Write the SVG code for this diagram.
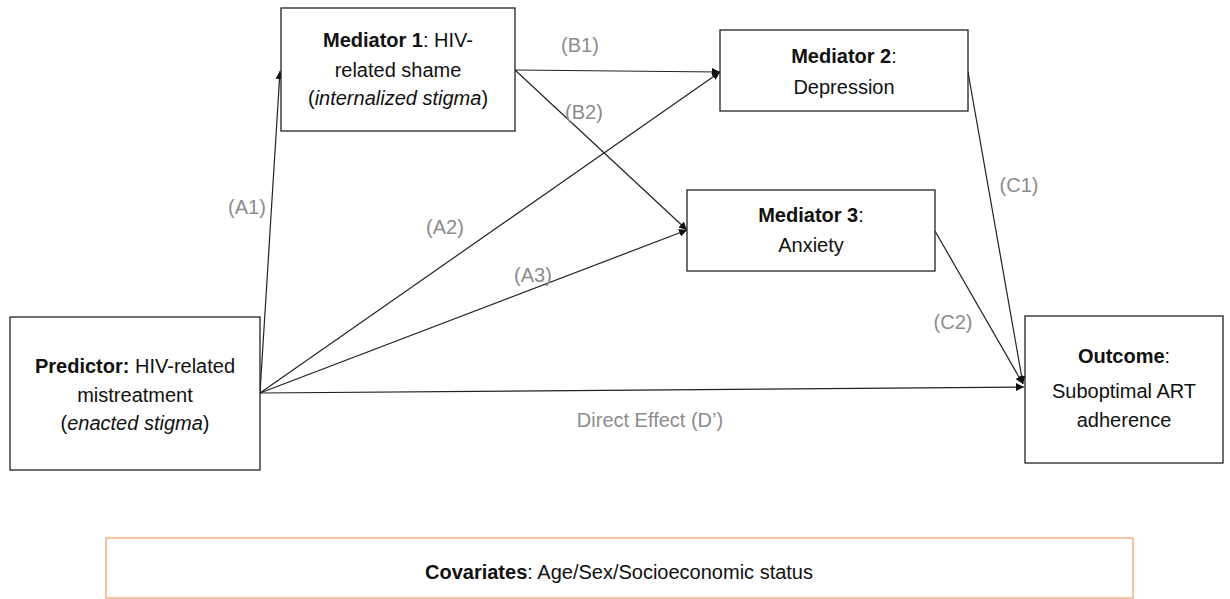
<svg xmlns="http://www.w3.org/2000/svg" width="1230" height="599" viewBox="0 0 1230 599">
<style>
.box{fill:#fff;stroke:#222;stroke-width:1.3}
.t{font-family:"Liberation Sans",Arial,sans-serif;font-size:20px;fill:#111;text-anchor:middle}
.b{font-weight:bold}
.i{font-style:italic}
.lbl{font-family:"Liberation Sans",Arial,sans-serif;font-size:20px;fill:#8c8c8c;text-anchor:middle}
.c{stroke:#222;stroke-width:1.2;fill:none;marker-end:url(#ah)}
</style>
<defs>
<marker id="ah" viewBox="0 0 10 10" refX="10" refY="5" markerWidth="8" markerHeight="8" markerUnits="userSpaceOnUse" orient="auto">
<path d="M0,0 L10,5 L0,10 z" fill="#111"/>
</marker>
</defs>
<rect width="1230" height="599" fill="#fff"/>
<g id="connectors">
<line class="c" x1="260" y1="393" x2="280" y2="71"/>
<line class="c" x1="260" y1="393" x2="720" y2="72"/>
<line class="c" x1="260" y1="393" x2="687" y2="230"/>
<line class="c" x1="260" y1="393" x2="1024" y2="387"/>
<line class="c" x1="515" y1="70" x2="720" y2="72"/>
<line class="c" x1="515" y1="70" x2="687" y2="230"/>
<line class="c" x1="968" y1="72" x2="1023" y2="384"/>
<line class="c" x1="935" y1="231" x2="1023" y2="384"/>
<text class="lbl" x="247" y="214">(A1)</text>
<text class="lbl" x="445" y="234">(A2)</text>
<text class="lbl" x="533" y="282">(A3)</text>
<text class="lbl" x="580" y="52">(B1)</text>
<text class="lbl" x="584" y="119">(B2)</text>
<text class="lbl" x="1019" y="192">(C1)</text>
<text class="lbl" x="953" y="329">(C2)</text>
<text class="lbl" x="650" y="427">Direct Effect (D’)</text>
</g>
<g id="mediator1">
<rect class="box" x="281" y="8" width="234" height="123"/>
<text class="t" x="398" y="47"><tspan class="b">Mediator 1</tspan>: HIV-</text>
<text class="t" x="398" y="77">related shame</text>
<text class="t" x="398" y="105">(<tspan class="i">internalized stigma</tspan>)</text>
</g>
<g id="mediator2">
<rect class="box" x="720" y="30" width="248" height="81"/>
<text class="t" x="844" y="63"><tspan class="b">Mediator 2</tspan>:</text>
<text class="t" x="844" y="94">Depression</text>
</g>
<g id="mediator3">
<rect class="box" x="687" y="190" width="248" height="81"/>
<text class="t" x="811" y="222"><tspan class="b">Mediator 3</tspan>:</text>
<text class="t" x="811" y="252">Anxiety</text>
</g>
<g id="predictor">
<rect class="box" x="10" y="317" width="250" height="153"/>
<text class="t" x="135" y="373"><tspan class="b">Predictor:</tspan> HIV-related</text>
<text class="t" x="135" y="402">mistreatment</text>
<text class="t" x="135" y="430">(<tspan class="i">enacted stigma</tspan>)</text>
</g>
<g id="outcome">
<rect class="box" x="1025" y="316" width="198" height="147"/>
<text class="t" x="1124" y="363"><tspan class="b">Outcome</tspan>:</text>
<text class="t" x="1124" y="398">Suboptimal ART</text>
<text class="t" x="1124" y="427">adherence</text>
</g>
<g id="covariates">
<rect x="106" y="538" width="1027" height="60" fill="#fff" stroke="#F4A774" stroke-width="1.3"/>
<text class="t" x="619" y="579"><tspan class="b">Covariates</tspan>: Age/Sex/Socioeconomic status</text>
</g>
</svg>
